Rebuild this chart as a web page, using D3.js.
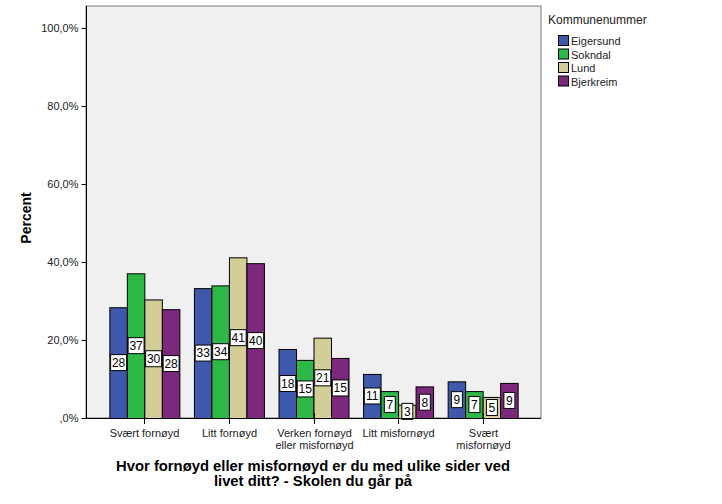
<!DOCTYPE html>
<html>
<head>
<meta charset="utf-8">
<script src="https://cdn.jsdelivr.net/npm/d3@7"></script>
<style>
  body { margin: 0; background: #fff; }
  svg { font-family: "Liberation Sans", Arial, sans-serif; }
</style>
</head>
<body>
<svg width="722" height="504"></svg>
<script>
// chart data
const categories = ["Svært fornøyd", "Litt fornøyd", "Verken fornøyd eller misfornøyd", "Litt misfornøyd", "Svært misfornøyd"];
const categoryLines = [["Svært fornøyd"], ["Litt fornøyd"], ["Verken fornøyd", "eller misfornøyd"], ["Litt misfornøyd"], ["Svært", "misfornøyd"]];
const municipalities = ["Eigersund", "Sokndal", "Lund", "Bjerkreim"];
const colors = ["#3E58AC", "#2EB848", "#D3CE97", "#7C287D"];
const eigersund = [28.4, 33.3, 17.7, 11.3, 9.4];
const sokndal = [37.1, 34.0, 14.9, 6.9, 6.9];
const lund = [30.4, 41.2, 20.6, 3.4, 5.4];
const bjerkreim = [27.9, 39.7, 15.4, 8.1, 9.0];
const yTicks = [0, 20, 40, 60, 80, 100];

const seriesValues = [eigersund, sokndal, lund, bjerkreim];

let svg = d3.select("svg");

let plotLeft = 86, plotRight = 541, plotTop = 6, plotBottom = 418;

let x = d3.scalePoint()
    .domain(categories)
    .range([plotLeft, plotRight])
    .padding(0.69);

let xInner = d3.scaleBand()
    .domain(municipalities)
    .range([-35, 35]);

let y = d3.scaleLinear()
    .domain([0, 100])
    .range([plotBottom, 28]);

// plot background
svg.append("rect")
    .attr("x", plotLeft)
    .attr("y", plotTop)
    .attr("width", plotRight - plotLeft)
    .attr("height", plotBottom - plotTop)
    .attr("fill", "#F0F0F0")
    .attr("stroke", "#7a7a7a")
    .attr("stroke-width", 1);

// bars
let cells = [];
categories.forEach((c, ci) => {
    municipalities.forEach((m, mi) => {
        cells.push({ cat: c, mun: m, mi: mi, value: seriesValues[mi][ci] });
    });
});

svg.selectAll("rect.bar")
    .data(cells)
    .enter()
    .append("rect")
    .attr("class", "bar")
    .attr("x", d => x(d.cat) + xInner(d.mun) + 0.5)
    .attr("y", d => y(d.value) + 0.5)
    .attr("width", xInner.bandwidth())
    .attr("height", d => y(0) - y(d.value))
    .attr("fill", d => colors[d.mi])
    .attr("stroke", "#000")
    .attr("stroke-width", 1);

// value labels
let labels = svg.selectAll("g.lbl")
    .data(cells)
    .enter()
    .append("g")
    .attr("class", "lbl")
    .attr("transform", d => `translate(${x(d.cat) + xInner(d.mun) + xInner.bandwidth() / 2 + 0.5},${(y(d.value) + y(0)) / 2})`);

labels.append("rect")
    .attr("x", d => Math.round(d.value) >= 10 ? -8 : -5.5)
    .attr("y", -8)
    .attr("width", d => Math.round(d.value) >= 10 ? 16 : 11)
    .attr("height", 16)
    .attr("fill", "#fff")
    .attr("stroke", "#000")
    .attr("stroke-width", 1);

labels.append("text")
    .attr("text-anchor", "middle")
    .attr("dy", "0.36em")
    .attr("font-size", 12)
    .attr("fill", "#000")
    .text(d => Math.round(d.value));

// y axis
let yAxis = d3.axisLeft(y)
    .tickValues(yTicks)
    .tickSize(5)
    .tickFormat(d => d === 0 ? ",0%" : d + ",0%");

svg.append("g")
    .attr("transform", `translate(${plotLeft + 0.5},0)`)
    .call(yAxis)
    .call(g => g.select(".domain").remove())
    .call(g => g.selectAll("text").attr("font-size", 11).attr("fill", "#222").attr("font-family", "Liberation Sans, Arial, sans-serif"))
    .call(g => g.selectAll("line").attr("stroke", "#000"));

svg.append("line")
    .attr("x1", plotLeft + 0.5).attr("x2", plotLeft + 0.5)
    .attr("y1", plotTop).attr("y2", plotBottom)
    .attr("stroke", "#000");

// x axis
svg.append("line")
    .attr("x1", plotLeft).attr("x2", plotRight)
    .attr("y1", plotBottom + 0.5).attr("y2", plotBottom + 0.5)
    .attr("stroke", "#000");

let xTicks = svg.selectAll("g.xt")
    .data(categories)
    .enter()
    .append("g")
    .attr("class", "xt")
    .attr("transform", d => `translate(${Math.round(x(d)) + 0.5},${plotBottom})`);

xTicks.append("line")
    .attr("y1", -5).attr("y2", 6)
    .attr("stroke", "#000");

xTicks.append("text")
    .attr("text-anchor", "middle")
    .attr("font-size", 11)
    .attr("fill", "#222")
    .selectAll("tspan")
    .data((d, i) => categoryLines[i])
    .enter()
    .append("tspan")
    .attr("x", 0)
    .attr("y", (d, i) => 19 + i * 12)
    .text(d => d);

// axis titles
svg.append("text")
    .attr("transform", `translate(31,${(plotTop + plotBottom) / 2 + 6}) rotate(-90)`)
    .attr("text-anchor", "middle")
    .attr("font-size", 14)
    .attr("font-weight", "bold")
    .text("Percent");

svg.append("text")
    .attr("x", 313)
    .attr("y", 471)
    .attr("text-anchor", "middle")
    .attr("font-size", 14.8)
    .attr("font-weight", "bold")
    .text("Hvor fornøyd eller misfornøyd er du med ulike sider ved");

svg.append("text")
    .attr("x", 313)
    .attr("y", 486)
    .attr("text-anchor", "middle")
    .attr("font-size", 14.8)
    .attr("font-weight", "bold")
    .text("livet ditt? - Skolen du går på");

// legend
let legend = svg.append("g").attr("transform", "translate(548,0)");

legend.append("text")
    .attr("x", 0)
    .attr("y", 24)
    .attr("font-size", 12)
    .attr("fill", "#222")
    .text("Kommunenummer");

let items = legend.selectAll("g.item")
    .data(municipalities)
    .enter()
    .append("g")
    .attr("class", "item")
    .attr("transform", (d, i) => `translate(0,${35 + i * 13.5})`);

items.append("rect")
    .attr("x", 10.5)
    .attr("y", 0.5)
    .attr("width", 10)
    .attr("height", 10)
    .attr("fill", (d, i) => colors[i])
    .attr("stroke", "#000");

items.append("text")
    .attr("x", 23)
    .attr("y", 10)
    .attr("font-size", 11)
    .attr("fill", "#222")
    .text(d => d);
</script>
</body>
</html>
